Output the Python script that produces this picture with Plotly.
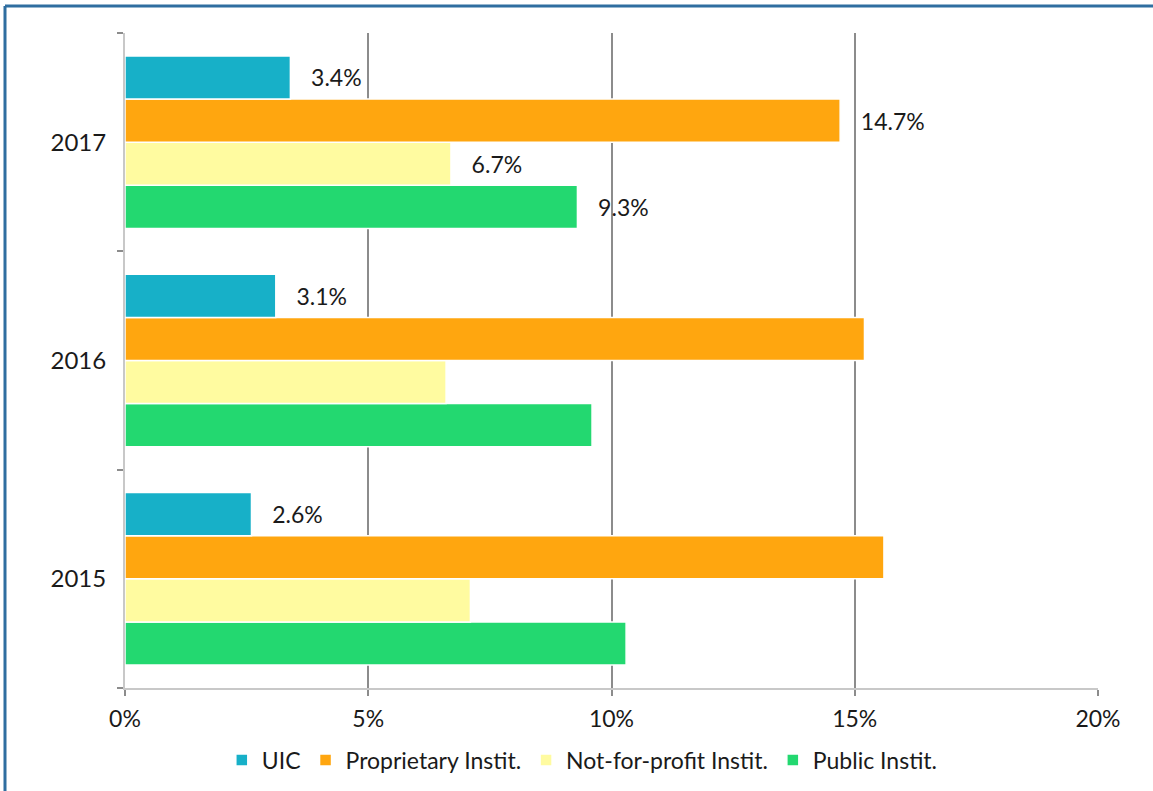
import plotly.graph_objects as go

years = ["2015", "2016", "2017"]
series_names = ["UIC", "Proprietary Instit.", "Not-for-profit Instit.", "Public Instit."]
uic = [2.6, 3.1, 3.4]
proprietary = [15.6, 15.2, 14.7]
not_for_profit = [7.1, 6.6, 6.7]
public = [10.3, 9.6, 9.3]
colors = ["#17B0C8", "#FFA60F", "#FFFBA0", "#23D870"]
x_ticks = [0, 5, 10, 15, 20]

values = [uic, proprietary, not_for_profit, public]
# labels shown: UIC for every year, other series only for 2017
label_all = [True, False, False, False]

FONT = "Lato"
W, H = 1153, 791
ML, MR, MT, MB = 125, 55, 33, 103
pw, ph = W - ML - MR, H - MT - MB

fig = go.Figure()
pad = "\u00a0\u00a0\u00a0"
for i in reversed(range(4)):
    txt = []
    for y, v in zip(years, values[i]):
        if label_all[i] or y == "2017":
            txt.append(f"{pad}{v:.1f}%")
        else:
            txt.append("")
    fig.add_trace(go.Bar(
        y=years, x=values[i], name=series_names[i], orientation="h",
        marker=dict(color=colors[i], line=dict(color="white", width=1.5)),
        text=txt, textposition="outside", constraintext="none", cliponaxis=False,
        textfont=dict(family=FONT, size=23, color="#1a1a1a"),
        hoverinfo="skip",
    ))

fig.update_layout(
    width=W, height=H,
    margin=dict(l=ML, r=MR, t=MT, b=MB, autoexpand=False),
    paper_bgcolor="white", plot_bgcolor="white",
    barmode="group", bargap=0.21, bargroupgap=0,
    font=dict(family=FONT, color="#1a1a1a"),
    legend=dict(orientation="h", x=0.47, xanchor="center", y=-0.077, yanchor="top",
                traceorder="reversed", font=dict(size=23, family=FONT),
                itemwidth=30, tracegroupgap=0),
    xaxis=dict(range=[0, 20], tickvals=x_ticks, ticktext=[f"{t}%" for t in x_ticks],
               showgrid=True, gridcolor="#8C8C8C", gridwidth=2, zeroline=False,
               showline=True, linecolor="#C8C8C8", linewidth=2, automargin=False,
               ticks="outside", ticklen=6, tickcolor="#8C8C8C", tickwidth=2,
               ticklabelstandoff=3,
               tickfont=dict(size=23, family=FONT), fixedrange=True),
    yaxis=dict(showgrid=False, zeroline=False, showline=True, linecolor="#C8C8C8", linewidth=2,
               ticks="outside", ticklen=6, tickcolor="#8C8C8C", tickwidth=2, tickson="boundaries",
               automargin=False,
               tickfont=dict(size=24, family=FONT), ticklabelstandoff=12, fixedrange=True),
    shapes=[
        dict(type="line", xref="paper", yref="paper",
             x0=(5 - ML) / pw, x1=1 + (MR + 10) / pw,
             y0=1 + (MT - 6) / ph, y1=1 + (MT - 6) / ph,
             line=dict(color="#2F6EA0", width=3)),
        dict(type="line", xref="paper", yref="paper",
             x0=(5 - ML) / pw, x1=(5 - ML) / pw,
             y0=1 + (MT - 6) / ph, y1=-(MB + 10) / ph,
             line=dict(color="#2F6EA0", width=3)),
    ],
)

fig.write_html("out.html")
